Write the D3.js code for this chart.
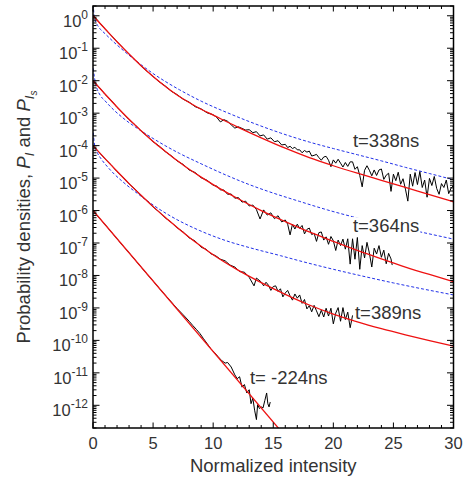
<!DOCTYPE html>
<html>
<head>
<script src="https://d3js.org/d3.v7.min.js"></script>
<style>
  body { margin: 0; background: #fff; }
  text { font-family: "Liberation Sans", Arial, sans-serif; fill: #333; }
</style>
</head>
<body>
<script>
// values are [normalized intensity, log10 of probability density]
// red fits
var fit338 = [[0,0],[1,-0.40],[2,-0.80],[3,-1.18],[4,-1.54],[5,-1.87],[6,-2.17],[7,-2.44],[8,-2.67],[9,-2.88],[10,-3.06],[12,-3.42],[14,-3.76],[16,-4.08],[18,-4.37],[20,-4.62],[22,-4.85],[24,-5.07],[26,-5.29],[28,-5.51],[30,-5.73]];
var fit364 = [[0,-2],[1,-2.41],[2,-2.81],[3,-3.19],[4,-3.54],[5,-3.87],[6,-4.17],[7,-4.46],[8,-4.73],[9,-4.97],[10,-5.20],[12,-5.62],[14,-6.00],[16,-6.34],[18,-6.66],[20,-6.95],[22,-7.23],[24,-7.49],[26,-7.74],[28,-7.97],[30,-8.19]];
var fit389 = [[0,-4],[1,-4.40],[2,-4.79],[3,-5.17],[4,-5.53],[5,-5.88],[6,-6.21],[7,-6.52],[8,-6.82],[9,-7.10],[10,-7.36],[12,-7.82],[14,-8.22],[16,-8.58],[18,-8.91],[20,-9.19],[22,-9.43],[24,-9.64],[26,-9.83],[28,-10.01],[30,-10.18]];
var fitM224 = [[0,-6],[16,-12.95]];

// blue dashed curves
var ref338 = [[0.02,0.35],[0.1,-0.02],[0.25,-0.2],[0.5,-0.36],[1,-0.55],[1.67,-0.79],[2.5,-1.06],[3.9,-1.48],[5,-1.78],[6,-2.02],[7.2,-2.28],[9,-2.63],[11.4,-3.02],[13.5,-3.33],[15.6,-3.61],[18,-3.89],[20,-4.09],[22,-4.28],[24,-4.47],[26,-4.67],[28,-4.86],[30,-5.05]];
var ref364 = [[0.02,-1.62],[0.12,-1.9],[0.3,-2.2],[0.6,-2.45],[1,-2.62],[1.67,-2.88],[2.5,-3.15],[3.9,-3.52],[5,-3.78],[6,-4.0],[7.2,-4.24],[9,-4.56],[11.4,-4.96],[13,-5.2],[14.5,-5.40],[17.2,-5.72],[19.5,-5.98],[21.6,-6.19],[24,-6.40],[27.5,-6.68],[30,-6.88]];
var ref389 = [[0.02,-3.6],[0.12,-3.95],[0.33,-4.19],[0.7,-4.42],[1.2,-4.65],[1.67,-4.84],[2.5,-5.12],[3.9,-5.53],[5,-5.83],[6.5,-6.18],[8.9,-6.62],[11,-6.92],[13.1,-7.15],[15.6,-7.39],[17.2,-7.55],[20,-7.81],[22.2,-8.0],[25,-8.23],[27.5,-8.42],[30,-8.6]];

// measured densities (black)
var data338 = [[0,0.02],[0.5,-0.19],[1,-0.41],[1.5,-0.6],[2,-0.8],[2.5,-0.99],[3,-1.18],[3.5,-1.36],[4,-1.55],[4.5,-1.71],[5,-1.87],[5.5,-2.03],[6,-2.16],[6.5,-2.32],[7,-2.43],[7.5,-2.57],[8,-2.66],[8.5,-2.8],[9,-2.87],[9.5,-2.99],[10,-3.05],[10.3,-3.13],[10.6,-3.27],[10.9,-3.2],[11.2,-3.25],[11.5,-3.36],[11.8,-3.46],[12.1,-3.42],[12.4,-3.47],[12.7,-3.52],[13,-3.51],[13.3,-3.6],[13.6,-3.57],[13.9,-3.7],[14.2,-3.67],[14.5,-3.8],[14.8,-3.76],[15.1,-3.88],[15.4,-3.85],[15.7,-3.98],[16,-3.96],[16.2,-4.06],
  [16.4,-4.02],[16.6,-4.09],[16.8,-4.05],[17,-4.13],[17.2,-4.13],[17.4,-4.22],[17.6,-4.15],[17.8,-4.20],[18,-4.17],[18.2,-4.32],[18.4,-4.30],[18.6,-4.27],[18.8,-4.37],[19,-4.45],[19.2,-4.35],[19.4,-4.33],[19.6,-4.45],[19.8,-4.65],[20,-4.44],[20.2,-4.54],[20.4,-4.42],[20.6,-4.54],[20.8,-4.66],[21,-4.52],[21.2,-4.64],[21.4,-4.50],[21.6,-4.50],[21.8,-4.73],[22,-4.65],[22.2,-4.92],[22.4,-5.27],[22.6,-4.76],[22.8,-4.62],[23,-4.76],[23.2,-4.93],[23.4,-4.75],[23.6,-4.92],[23.8,-4.75],[24,-4.72],[24.2,-5.04],[24.4,-4.91],[24.6,-4.85],[24.8,-5.41],[25,-4.88],[25.2,-5.08],[25.4,-4.82],[25.6,-5.19],[25.8,-5.02],[26,-5.34],[26.2,-5.71],[26.4,-4.88],[26.6,-5.25],[26.8,-4.83],[27,-5.20],[27.2,-4.80],[27.4,-5.29],[27.6,-5.06],[27.8,-5.59],[28,-5.01],[28.2,-5.23],[28.4,-4.95],[28.6,-5.32],[28.8,-5.50],[29,-5.17],[29.2,-5.29],[29.4,-5.06],[29.6,-5.48],[29.8,-5.31],[30,-5.23]];
var data364 = [[0,-1.99],[0.5,-2.2],[1,-2.42],[1.5,-2.6],[2,-2.82],[2.5,-3.0],[3,-3.2],[3.5,-3.36],[4,-3.55],[4.5,-3.7],[5,-3.88],[5.5,-4.01],[6,-4.18],[6.5,-4.31],[7,-4.47],[7.5,-4.58],[8,-4.75],[8.5,-4.83],[9,-4.99],[9.5,-5.07],[10,-5.22],[10.3,-5.25],[10.6,-5.36],[10.9,-5.37],[11.2,-5.50],[11.5,-5.49],[11.8,-5.62],[12.1,-5.6],[12.4,-5.74],[12.7,-5.71],[13,-5.86],[13.3,-5.83],[13.6,-5.97],[13.9,-6.26],[14.2,-5.98],[14.5,-6.14],[14.8,-6.07],[15.1,-6.25],[15.4,-6.16],[15.7,-6.35],
  [16,-6.29],[16.2,-6.42],[16.4,-6.75],[16.6,-6.42],[16.8,-6.57],[17,-6.42],[17.2,-6.55],[17.4,-6.46],[17.6,-6.72],[17.8,-6.58],[18,-6.54],[18.2,-6.74],[18.4,-6.70],[18.6,-6.95],[18.8,-6.68],[19,-6.66],[19.2,-6.91],[19.4,-6.81],[19.6,-7.04],[19.8,-6.80],[20,-6.93],[20.2,-7.23],[20.4,-6.91],[20.6,-7.08],[20.8,-6.88],[21,-7.19],[21.2,-6.87],[21.4,-7.65],[21.6,-6.87],[21.8,-7.50],[22,-6.83],[22.2,-7.81],[22.4,-7.08],[22.6,-7.46],[22.8,-6.98],[23,-7.31],[23.2,-7.74],[23.4,-7.16],[23.6,-7.34],[23.8,-7.08],[24,-7.44],[24.2,-7.22],[24.4,-7.64],[24.6,-7.32],[24.8,-7.49],[24.9,-7.68]];
var data389 = [[0,-4.0],[0.5,-4.2],[1,-4.41],[1.5,-4.59],[2,-4.8],[2.5,-4.97],[3,-5.18],[3.5,-5.34],[4,-5.54],[4.5,-5.70],[5,-5.89],[5.5,-6.04],[6,-6.22],[6.5,-6.36],[7,-6.53],[7.5,-6.66],[8,-6.84],[8.5,-6.94],[9,-7.13],[9.4,-7.19],[9.8,-7.33],[10.2,-7.39],[10.6,-7.50],[11,-7.55],[11.4,-7.68],[11.8,-7.74],[12.2,-7.88],[12.6,-7.90],[13,-8.06],[13.4,-8.32],[13.6,-8.08],
  [14,-8.20],[14.2,-8.32],[14.4,-8.21],[14.6,-8.30],[14.8,-8.46],[15,-8.34],[15.2,-8.32],[15.4,-8.49],[15.6,-8.41],[15.8,-8.66],[16,-8.54],[16.2,-8.46],[16.4,-8.63],[16.6,-8.76],[16.8,-8.57],[17,-8.70],[17.2,-8.60],[17.4,-8.86],[17.6,-8.74],[17.8,-9.03],[18,-8.93],[18.2,-9.12],[18.4,-8.92],[18.6,-9.09],[18.8,-9.27],[19,-9.07],[19.2,-9.28],[19.4,-9.01],[19.6,-9.25],[19.8,-9.01],[20,-9.49],[20.2,-9.16],[20.4,-8.99],[20.6,-9.41],[20.8,-8.99],[21,-9.36],[21.2,-9.13],[21.4,-9.61],[21.6,-9.23]];
var dataM224 = [[0,-6.0],[0.5,-6.22],[1,-6.43],[1.5,-6.65],[2,-6.87],[2.5,-7.09],[3,-7.30],[3.5,-7.52],[4,-7.74],[4.5,-7.96],[5,-8.17],[5.5,-8.39],[6,-8.60],[6.5,-8.81],[7,-9.02],[7.5,-9.21],[8,-9.41],[8.3,-9.54],[8.6,-9.66],[8.9,-9.79],[9.2,-9.95],[9.5,-10.10],[9.8,-10.26],[10.1,-10.37],[10.4,-10.50],[10.7,-10.62],[11,-10.70],[11.2,-10.68],[11.5,-10.82],[11.8,-11.06],[12,-11.18],[12.2,-11.12],[12.4,-11.44],[12.6,-11.36],[12.8,-11.62],[13,-11.52],[13.15,-11.95],[13.3,-11.78],[13.45,-12.15],[13.6,-12.44],[13.7,-11.98],[13.85,-12.10],[14,-12.05],[14.15,-12.08],[14.3,-11.85],[14.45,-11.62],[14.55,-11.95],[14.65,-12.05],[14.75,-11.9]];

var timeLabels = ['t=338ns', 't=364ns', 't=389ns', 't= -224ns'];
var labelAt = [[21.63,-4.04],[21.63,-6.65],[21.8,-9.33],[13.06,-11.33]];

var xTickLabels = [0, 5, 10, 15, 20, 25, 30];
var yExponents = [0, -1, -2, -3, -4, -5, -6, -7, -8, -9, -10, -11, -12];

var w = 465, h = 481;
var plotL = 93, plotR = 453.5, plotT = 6, plotB = 428;

var svg = d3.select('body').append('svg')
    .attr('width', w).attr('height', h);

var xScale = d3.scaleLinear().domain([0, 30]).range([plotL, plotR]);
var yScale = d3.scaleLog().domain([2e-13, 2]).range([plotB, plotT]);

function px(d){ return xScale(d[0]) }
function py(d){ return yScale(Math.pow(10, d[1])) }

var smoothLine = d3.line().x(px).y(py).curve(d3.curveMonotoneX);
var rawLine = d3.line().x(px).y(py);

svg.append('clipPath').attr('id', 'plotclip')
  .append('rect')
    .attr('x', plotL).attr('y', plotT)
    .attr('width', plotR - plotL).attr('height', plotB - plotT);

var plot = svg.append('g').attr('clip-path', 'url(#plotclip)');

[ref338, ref364, ref389].forEach(function(ds){
    plot.append('path')
        .attr('d', smoothLine(ds))
        .attr('fill', 'none')
        .attr('stroke', '#2030e8')
        .attr('stroke-width', 1)
        .attr('stroke-dasharray', '3,2');
});

[data338, data364, data389, dataM224].forEach(function(ds){
    plot.append('path')
        .attr('d', rawLine(ds))
        .attr('fill', 'none')
        .attr('stroke', '#000')
        .attr('stroke-width', 1);
});

[fit338, fit364, fit389, fitM224].forEach(function(ds){
    plot.append('path')
        .attr('d', smoothLine(ds))
        .attr('fill', 'none')
        .attr('stroke', '#ee1111')
        .attr('stroke-width', 1.3);
});

// time labels with white knock-out box
timeLabels.forEach(function(t, i){
    var g = svg.append('g');
    var bx = xScale(labelAt[i][0]), by = yScale(Math.pow(10, labelAt[i][1]));
    var txt = g.append('text')
        .attr('x', bx).attr('y', by)
        .attr('font-size', 18.5)
        .text(t);
    var bb = txt.node().getBBox();
    g.insert('rect', 'text')
        .attr('x', bb.x - 1).attr('y', by - 14.5)
        .attr('width', bb.width + 2).attr('height', 16)
        .attr('fill', '#fff');
});

// ticks
var ticks = svg.append('g').attr('stroke', '#000').attr('stroke-width', 1);
xScale.ticks(30).forEach(function(v){
    var len = (v % 5 === 0) ? 5.5 : 3;
    ticks.append('line').attr('x1', xScale(v)).attr('x2', xScale(v)).attr('y1', plotB).attr('y2', plotB - len);
    ticks.append('line').attr('x1', xScale(v)).attr('x2', xScale(v)).attr('y1', plotT).attr('y2', plotT + len);
});
for (var k = -13; k <= 0; k++) {
    for (var m = 1; m <= 9; m++) {
        var v = m * Math.pow(10, k);
        if (v < 2e-13 || v > 2) continue;
        var len = (m === 1) ? 6.5 : 3.5;
        var yy = yScale(v);
        ticks.append('line').attr('x1', plotL).attr('x2', plotL + len).attr('y1', yy).attr('y2', yy);
        ticks.append('line').attr('x1', plotR).attr('x2', plotR - len).attr('y1', yy).attr('y2', yy);
    }
}

svg.append('rect')
    .attr('x', plotL).attr('y', plotT)
    .attr('width', plotR - plotL).attr('height', plotB - plotT)
    .attr('fill', 'none').attr('stroke', '#000').attr('stroke-width', 1.5);

// tick labels
svg.selectAll('.xlab').data(xTickLabels).enter().append('text')
    .attr('class', 'xlab')
    .attr('x', function(d){ return xScale(d) })
    .attr('y', 448.5)
    .attr('text-anchor', 'middle')
    .attr('font-size', 16.5)
    .text(function(d){ return d });

yExponents.forEach(function(e){
    var t = svg.append('text')
        .attr('x', 88)
        .attr('y', yScale(Math.pow(10, e)) + 11)
        .attr('text-anchor', 'end')
        .attr('font-size', 16.5);
    t.append('tspan').text('10');
    t.append('tspan').attr('font-size', 12).attr('dy', -8).text(String(e));
});

// axis titles
svg.append('text')
    .attr('x', (plotL + plotR) / 2).attr('y', 472)
    .attr('text-anchor', 'middle')
    .attr('font-size', 18.5)
    .text('Normalized intensity');

var yt = svg.append('text')
    .attr('transform', 'translate(30,217) rotate(-90)')
    .attr('text-anchor', 'middle')
    .attr('font-size', 18.5);
yt.append('tspan').text('Probability densities, ');
yt.append('tspan').attr('font-style', 'italic').text('P');
yt.append('tspan').attr('font-style', 'italic').attr('font-size', 13).attr('dy', 4).text('I');
yt.append('tspan').attr('dy', -4).text(' and ');
yt.append('tspan').attr('font-style', 'italic').text('P');
yt.append('tspan').attr('font-style', 'italic').attr('font-size', 13).attr('dy', 4).text('I');
yt.append('tspan').attr('font-style', 'italic').attr('font-size', 10).attr('dy', 3).text('s');
</script>
</body>
</html>
